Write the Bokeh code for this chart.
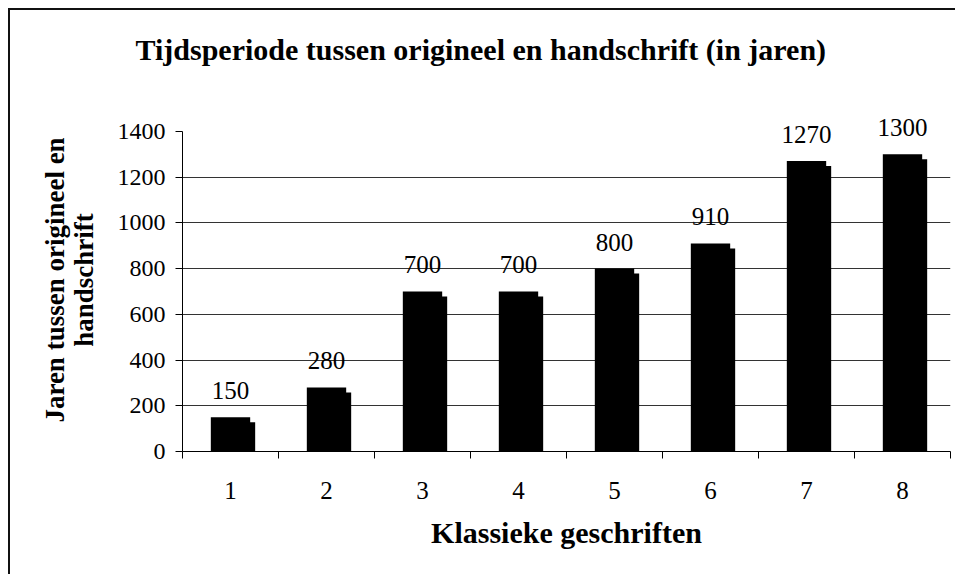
from bokeh.plotting import figure
from bokeh.models import ColumnDataSource, FixedTicker, LabelSet, Range1d, Title
from bokeh.core.properties import value
from bokeh.embed import file_html
from bokeh.resources import INLINE
from bokeh.transform import dodge

categories = [1, 2, 3, 4, 5, 6, 7, 8]
values = [150, 280, 700, 700, 800, 910, 1270, 1300]
y_ticks = [0, 200, 400, 600, 800, 1000, 1200, 1400]

depth = 22  # visual depth of the pseudo-3D shadow, in value units
src = ColumnDataSource(dict(
    x=categories,
    top=values,
    shadow_top=[v - depth for v in values],
    label=[str(v) for v in values],
))

FONT = "Liberation Serif"

# y range extends a little above the last tick so the value labels are not clipped
p = figure(width=947, height=566, output_backend="svg", toolbar_location=None,
           x_range=Range1d(0.5, 8.5), y_range=Range1d(0, 1500),
           min_border_left=172, min_border_right=7, min_border_bottom=125,
           min_border_top=98,
           styles={"margin-left": "8px", "margin-top": "8px",
                   "border-top": "2px solid #111", "border-left": "2px solid #111"})

# main title (outermost)
p.title.text = "Tijdsperiode tussen origineel en handschrift (in jaren)"
p.title.text_font = FONT
p.title.text_font_size = "30px"
p.title.text_font_style = "bold"
p.title.text_color = "black"
p.title.align = "left"
p.title.offset = -47
p.title.standoff = 10

# spacer between frame and title
p.add_layout(Title(text=" ", text_font_size="1px", standoff=35), "above")

p.outline_line_color = None
p.background_fill_color = "white"

# bars (shadow + front)
p.vbar(x=dodge("x", 0.052), top="shadow_top", width=0.41, bottom=0, source=src,
       fill_color="black", line_color=None)
p.vbar(x="x", top="top", width=0.41, bottom=0, source=src,
       fill_color="black", line_color=None)

labels = LabelSet(x="x", y="top", text="label", source=src, text_align="center",
                  text_baseline="alphabetic", y_offset=18, text_font=value(FONT),
                  text_font_size="25px", text_color="black")
p.add_layout(labels)

# x axis: labels at category centres, tick marks at category boundaries
p.xaxis.ticker = FixedTicker(ticks=categories,
                             minor_ticks=[c - 0.5 for c in categories] + [categories[-1] + 0.5])
p.xaxis.major_tick_line_color = None
p.xaxis.major_tick_out = 0
p.xaxis.major_tick_in = 0
p.xaxis.minor_tick_out = 7
p.xaxis.minor_tick_in = 0
p.xaxis.minor_tick_line_color = "black"
p.xaxis.axis_line_color = "black"
p.xaxis.major_label_text_font = FONT
p.xaxis.major_label_text_font_size = "25px"
p.xaxis.major_label_text_color = "black"
p.xaxis.major_label_standoff = 23
p.xaxis.axis_label = "Klassieke geschriften"
p.xaxis.axis_label_text_font = FONT
p.xaxis.axis_label_text_font_size = "30px"
p.xaxis.axis_label_text_font_style = "bold"
p.xaxis.axis_label_text_color = "black"
p.xaxis.axis_label_standoff = 14

p.yaxis.ticker = FixedTicker(ticks=y_ticks)
p.yaxis.bounds = (0, 1400)
p.yaxis.major_tick_out = 7
p.yaxis.major_tick_in = 0
p.yaxis.minor_tick_line_color = None
p.yaxis.axis_line_color = "black"
p.yaxis.major_tick_line_color = "black"
p.yaxis.major_label_text_font = FONT
p.yaxis.major_label_text_font_size = "24px"
p.yaxis.major_label_text_color = "black"
p.yaxis.major_label_standoff = 10
p.yaxis.axis_label = "Jaren tussen origineel en\nhandschrift"
p.yaxis.axis_label_text_font = FONT
p.yaxis.axis_label_text_font_size = "27px"
p.yaxis.axis_label_text_font_style = "bold"
p.yaxis.axis_label_text_color = "black"
p.yaxis.axis_label_text_line_height = 0.95
p.yaxis.axis_label_standoff = 16

p.xgrid.grid_line_color = None
p.ygrid.ticker = FixedTicker(ticks=y_ticks[1:-1])
p.ygrid.grid_line_color = "#333333"
p.ygrid.grid_line_width = 1

open("out.html", "w").write(file_html(p, INLINE))
